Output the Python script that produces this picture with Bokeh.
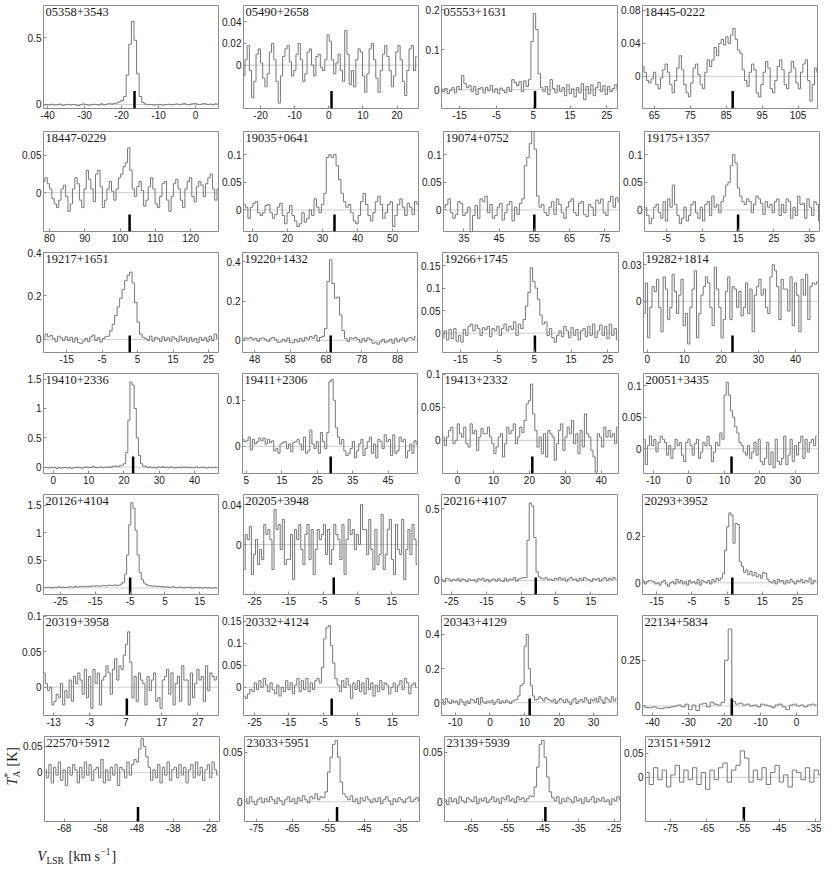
import numpy as np
from bokeh.plotting import figure
from bokeh.models import Label, Span, FixedTicker
from bokeh.layouts import column, row
from bokeh.embed import file_html
from bokeh.resources import INLINE

# ---------------- data ----------------
names = ["05358+3543", "05490+2658", "05553+1631", "18445-0222",
         "18447-0229", "19035+0641", "19074+0752", "19175+1357",
         "19217+1651", "19220+1432", "19266+1745", "19282+1814",
         "19410+2336", "19411+2306", "19413+2332", "20051+3435",
         "20126+4104", "20205+3948", "20216+4107", "20293+3952",
         "20319+3958", "20332+4124", "20343+4129", "22134+5834",
         "22570+5912", "23033+5951", "23139+5939", "23151+5912"]

# systemic velocity markers (km/s)
vsys = [-16.5, 0.8, 5.5, 86.8, 102.7, 33.4, 55.0, 15.0,
        2.8, 69.3, 5.2, 23.0, 22.6, 28.8, 20.8, 12.0,
        -5.0, -1.9, -0.8, 6.5, 7.3, -2.6, 11.5, -18.0,
        -47.7, -52.6, -44.3, -54.8]

# first channel velocity and channel width (km/s)
v_first = [-40.8, -24.9, -20.0, 61.8, 78.4, 7.6, 29.4, -10.9,
           -21.4, 44.8, -19.8, -0.8, -2.6, 4.0, -4.0, -12.6,
           -29.7, -28.0, -27.7, -18.8, -15.6, -28.0, -13.8, -42.5,
           -73.2, -78.0, -72.3, -81.6]
dv = [0.7, 0.65, 0.65, 0.65, 0.65, 0.7, 0.7, 0.65,
      0.7, 0.7, 0.65, 0.6, 0.6, 0.6, 0.6, 0.6,
      0.6, 0.6, 0.65, 0.6, 0.6, 0.65, 0.6, 1.0,
      0.65, 0.7, 0.7, 1.2]

# axis limits
x_lo = [-41.1, -25.0, -19.9, 61.7, 78.3, 7.4, 29.2, -11.2,
        -21.5, 44.6, -19.9, -1.0, -2.8, 3.9, -4.2, -12.8,
        -29.9, -28.2, -27.9, -19.0, -15.8, -28.2, -14.0, -42.8,
        -73.4, -78.3, -72.5, -82.0]
x_hi = [6.2, 26.3, 27.9, 110.4, 127.9, 57.4, 79.2, 37.8,
        27.8, 93.6, 27.9, 46.2, 46.8, 53.3, 44.8, 36.5,
        20.4, 22.8, 22.7, 30.7, 32.7, 22.6, 36.9, 5.8,
        -25.3, -29.7, -23.3, -33.6]
y_lo = [-0.03, -0.040, -0.047, -0.039, -0.052, -0.039, -0.039, -0.039,
        -0.06, -0.062, -0.043, -0.042, -0.107, -0.059, -0.050, -0.039,
        -0.12, -0.05, -0.098, -0.05, -0.040, -0.064, -0.075, -0.052,
        -0.094, -0.020, -0.020, -0.092]
y_hi = [0.74, 0.055, 0.21, 0.086, 0.082, 0.142, 0.142, 0.142,
        0.40, 0.447, 0.179, 0.040, 1.596, 0.158, 0.101, 0.119,
        1.70, 0.05, 0.60, 0.379, 0.101, 0.163, 0.511, 0.494,
        0.069, 0.066, 0.066, 0.085]

x_ticks = [[-40, -30, -20, -10, 0], [-20, -10, 0, 10, 20], [-15, -5, 5, 15, 25], [65, 75, 85, 95, 105],
           [80, 90, 100, 110, 120], [10, 20, 30, 40, 50], [35, 45, 55, 65, 75], [-5, 5, 15, 25, 35],
           [-15, -5, 5, 15, 25], [48, 58, 68, 78, 88], [-15, -5, 5, 15, 25], [0, 10, 20, 30, 40],
           [0, 10, 20, 30, 40], [5, 15, 25, 35, 45], [0, 10, 20, 30, 40], [-10, 0, 10, 20, 30],
           [-25, -15, -5, 5, 15], [-25, -15, -5, 5, 15], [-25, -15, -5, 5, 15], [-15, -5, 5, 15, 25],
           [-13, -3, 7, 17, 27], [-25, -15, -5, 5, 15], [-10, 0, 10, 20, 30], [-40, -30, -20, -10, 0],
           [-68, -58, -48, -38, -28], [-75, -65, -55, -45, -35], [-65, -55, -45, -35, -25], [-75, -65, -55, -45, -35]]
y_ticks = [[0, 0.5], [0, 0.02, 0.04], [0, 0.1, 0.2], [0, 0.04, 0.08],
           [0, 0.05], [0, 0.05, 0.1], [0, 0.05, 0.1], [0, 0.05, 0.1],
           [0, 0.2, 0.4], [0, 0.2, 0.4], [0, 0.05, 0.1, 0.15], [0, 0.03],
           [0, 0.5, 1, 1.5], [0, 0.1], [0, 0.05, 0.1], [0, 0.05, 0.1],
           [0, 0.5, 1, 1.5], [0, 0.04], [0, 0.5], [0, 0.2],
           [0, 0.05, 0.1], [0, 0.05, 0.1, 0.15], [0, 0.2, 0.4], [0, 0.25],
           [0, 0.05], [0, 0.05], [0, 0.05], [0, 0.05]]

# antenna temperatures, mK, channel by channel
spec_01 = [-5, 0, -3, 2, -4, -2, 3, -6, -2, 1, -4, 0, -3, -8, -2, 4, -1, -5, -3, 2,
           0, -4, 5, -3, 2, 6, 3, 8, 12, 20, 30, 60, 220, 450, 620, 480, 230, 60, 15,
           3, -2, 0, -4, -3, 1, -2, -5, -1, 2, -3, 0, 4, -2, 3, 6, 1, -3, 5, 8,
           2, -1, 4, 6, 0, 3, -2, 5, 2]
spec_02 = [-10, 5, 18, -5, -30, -15, 10, 15, 2, -12, -20, -8, 12, 20, 5, -15, -35, -10, 8, 15,
           18, 3, -10, -5, 10, 20, 5, -15, -8, 12, 15, 0, -10, 8, 10, -2, -5, 5, 28, 22,
           5, -8, 2, 10, -5, -15, 32, 10, -18, -5, -20, 5, 15, 12, -10, -25, -8, 15, 20, 5,
           -12, -25, -5, 10, 18, 8, -5, -20, -10, 12, 18, 5, -15, -28, -5, 15, 18, -5, 8]
spec_03 = [0, -5, 3, -10, -2, 5, -8, 8, 0, 35, 15, 5, 10, -5, 8, -12, 3, 5, -8, 6,
           -3, 10, -6, 2, -10, 4, -2, -8, 6, -5, 25, 18, 10, 20, -5, 22, 8, 25, 120, 190,
           150, 40, 5, -5, 8, -12, 25, 3, -8, 10, -5, 5, -15, 12, -10, 2, -18, 5, -8, 15,
           -25, 8, -10, 12, -15, 5, 18, -5, 10, -12, 8, -5, 3, 12, 0]
spec_04 = [12, 5, -5, -8, -3, 5, -10, -15, -2, 8, 15, 5, -10, -20, -5, 10, 25, 8, -10, -20,
           -25, -8, 10, 15, 2, -10, -15, 5, 20, 12, 20, 35, 25, 40, 45, 38, 48, 40, 50, 58,
           45, 32, 28, 8, -5, -12, 5, 15, 8, -20, -25, -10, 5, 18, 10, -15, -20, -5, 12, 20,
           8, -10, -15, 5, 18, 10, -8, -15, 5, 15, 20, -5, -30, -10, 10, 5]
spec_05 = [15, 20, 12, 5, -8, -15, -20, -10, 5, 10, -5, -25, -15, 5, 20, 12, -10, -20, 5, 30,
           18, 5, -12, 25, 30, 8, -20, -10, 5, 15, 2, -10, 5, 20, 25, 35, 40, 60, 30, 5,
           -5, 8, 15, 3, -18, -10, 8, 20, 5, -15, -20, -5, 12, 15, -10, -25, -5, 12, 18, 5,
           -10, -20, 5, 15, 20, -5, -12, 8, 15, 10, -5, 12, 20, 25, 5, -10, 5]
spec_06 = [10, 5, -15, 5, 12, 15, -5, -10, -5, 8, 10, -5, -15, -8, 5, 12, -10, -25, -5, 8,
           -10, -20, -30, -25, -5, -22, -15, 0, -10, 20, 5, -5, 10, 30, 95, 100, 95, 100, 80, 55,
           30, 15, 5, 10, -5, -20, -25, -10, 15, 30, 10, -10, -20, -5, 15, 25, 10, -15, -5, 10,
           15, -30, -10, 10, 20, 5, -10, 12, 5, -8, 15, 10]
spec_07 = [5, 10, 20, -5, -15, -8, 15, 12, -10, -5, 5, -45, -10, 8, -15, 20, 15, 25, -5, 10,
           -15, -10, 5, 12, -18, -5, 10, 15, -20, 5, -8, 12, 20, 80, 95, 120, 150, 110, 25, 5,
           10, -5, -10, 5, 15, -8, 20, 10, -5, -15, 5, 15, 20, -5, -10, 12, 15, -8, -12, 10,
           5, -10, 18, 12, 20, -5, -10, 15, 25, 5, 22, 15]
spec_08 = [5, -10, -25, -15, 5, 10, -5, -15, 15, -20, 20, 5, 45, 10, -10, -25, -15, 5, -20, -10,
           10, 15, -5, -15, 5, -20, 10, 15, -10, 25, 5, 10, -5, 15, 25, 45, 50, 80, 100, 85,
           40, 25, 15, 10, 20, 15, -5, 10, 25, 20, 12, -8, 15, 5, 10, -5, 15, 20, -10, 10,
           -5, 20, 15, -15, 5, -10, 25, 10, 12, -15, 20, 5, -10, 15, 10, -20]
spec_09 = [10, 25, 12, 18, 5, -10, 15, 8, -5, 12, -5, 10, -12, 8, -15, -18, -8, 5, -10, 12,
           20, -5, 8, -12, 5, 12, 15, 40, 70, 110, 150, 190, 230, 270, 295, 310, 260, 170, 80, 25,
           10, 5, -5, 15, -8, 10, 5, -10, 12, -5, 8, -8, 12, 5, -10, 15, -5, 8, -12, 10,
           -8, 5, -15, 10, -5, 8, -10, 15, -5, 25, 5]
spec_10 = [5, 12, 8, 15, 5, 10, -5, 8, 12, 3, -5, 8, 15, 5, -10, -8, 5, -5, 12, -10,
           -12, 5, -8, 10, -5, 15, 5, 20, 10, 25, -5, 15, 20, 60, 300, 410, 290, 215, 220, 130,
           50, 10, -5, 12, 8, 15, 5, -10, 10, -5, 12, 5, -15, -10, -20, -8, 5, -12, -5, 5,
           -15, 10, -8, 5, 12, -5, 10, 15, 5, 20]
spec_11 = [-10, 5, -15, 8, -12, 10, -18, -5, -20, 8, -5, 15, 20, 5, 18, 10, -5, 12, 8, 15,
           -8, 10, 5, 15, -5, 10, 20, 5, 15, 8, 25, -5, 20, 10, 30, 60, 90, 145, 115, 100,
           75, 40, 20, 25, -5, 10, -10, -20, -5, 5, -8, 15, 5, -10, 12, -5, 8, -15, 5, 10,
           -8, 15, -5, 20, -10, 5, 18, -5, 15, -12, 20, -5, 10, -15]
spec_12 = [-10, 15, -30, -5, 12, 8, 18, -5, -25, 20, 10, -15, -5, 22, 8, -10, 5, 18, -20, -10,
           -35, -5, 10, 25, -30, -10, 5, 12, 20, 15, -5, -20, 28, 10, -5, -30, -15, 8, 20, -15,
           12, 10, -5, 8, -12, -5, 15, -10, 10, -25, 5, 12, 18, 5, 10, -5, -10, 20, 30, 25,
           12, -15, 18, 10, 10, -8, 20, -20, 15, 5, -25, 18, 5, 22, -15, 12, 15, 14, 16]
spec_13 = [-10, -5, -15, 0, -10, -5, -20, -8, -15, -10, -5, -15, -8, -20, -10, -5, 0, -10, -15, -5,
           5, -10, -5, 10, 0, -8, -5, 5, -10, 0, 5, -5, 10, 15, 20, 10, 25, 35, 60, 250,
           800, 1450, 1400, 1000, 500, 200, 60, 20, 10, -5, 5, -10, 0, -15, 5, -5, 10, -5,
           0, -10, 5, -8, -15, -5, 0, -10, 5, -5, -8, 0, -12, -5, 5, -10, -5, 0, -8, -15,
           -5, -10, 0, -5, -10]
spec_14 = [15, 10, 12, 20, -8, 15, 5, 10, 18, 12, 18, 5, 15, 8, 12, -10, -5, -15, 5, 8,
           10, -5, 5, -12, 8, 10, 15, 5, -8, 20, -15, -10, 35, 5, -5, 10, -15, 30, 10, -5,
           30, 140, 145, 100, 40, 20, 5, 15, -10, -20, -15, -5, 10, -25, -10, 5, 15, -20, -5, 10,
           20, -15, 5, -25, 15, 10, -5, 25, 10, 15, -20, 25, -15, -10, 20, 10, 15, -25, -10, 5,
           -15, 12, 5]
spec_15 = [5, -8, 5, 15, 20, -5, 0, 25, 10, 5, 20, -5, -10, 25, 10, 15, -15, 5, 18, 10,
           10, 20, 5, -5, -20, -10, 5, 10, -25, -5, 20, 10, 15, 25, -5, 5, 20, 12, 30, 55,
           60, 85, 40, 15, -10, 5, -20, 10, -25, 15, 10, 5, -30, -5, 15, 25, -15, 5, 20, 10,
           30, -5, 10, -20, 15, -10, 40, 10, 5, -15, -25, -48, 10, 5, -10, 20, 5, 15, 5, 10,
           -5, 20]
spec_16 = [15, -25, 5, 20, 5, 15, -5, 10, 20, 15, 10, -10, 5, -15, 0, 15, 5, 10, -10, -20,
           10, 15, 5, -10, 8, 15, -15, -5, 10, 5, 20, 5, -20, -5, 10, 5, 25, 15, 85, 105,
           85, 60, 50, 35, 25, 10, 5, -5, -10, 5, -15, -5, 10, -10, 15, -20, -25, -15, 10, -25,
           -5, -30, 15, -20, -25, -15, 20, -25, -10, 15, -20, 5, -10, 10, 20, -15, 15, -5, 10, 15,
           5, 20]
spec_17 = [10, 5, 15, 8, 0, 10, 5, 20, 10, 15, 5, 10, 20, 15, 10, 25, 15, 20, 30, 25,
           20, 30, 25, 35, 30, 40, 35, 30, 45, 40, 35, 50, 45, 40, 55, 45, 50, 70, 100, 250,
           600, 1150, 1550, 1450, 1050, 600, 280, 150, 90, 60, 45, 40, 30, 35, 25, 30, 20, 25, 15, 20,
           10, 15, 20, 10, 5, 15, 10, 0, 10, 5, 15, -5, 5, 10, 0, 5, -5, 10, 0, 5,
           -5, 0, 5, 0]
spec_18 = [-25, 10, 5, 18, -30, -10, 5, -20, -5, -15, 20, 10, 15, 5, -25, 35, 15, 20, -5, 25,
           -20, -15, -15, 10, -35, 15, 5, 20, -5, -20, 10, 20, -15, 15, -30, -5, 15, 5, 10, 20,
           -10, 15, -20, -5, 20, 10, 5, -15, 20, -30, 5, 25, 10, 15, -5, 10, 0, 40, 15, 15,
           -10, 25, -5, -25, 15, -20, -10, 30, -25, -10, 15, 25, -15, -30, 20, -5, -10, 25, -35, -5,
           15, -10, 20, 5, -20]
spec_19 = [5, -10, 15, 10, -5, 8, 0, 12, -5, 10, 5, -8, 10, 0, 5, -10, 12, 5, 15, -5,
           8, -10, 5, 10, -5, 12, 0, -8, 15, -5, 10, 5, 20, -5, 10, 15, 20, 20, 280, 540,
           520, 300, 60, 25, 15, 10, 20, 5, 10, 0, 15, 8, 20, 5, 15, -5, 10, 20, 5, 10,
           -5, 15, 0, 20, 10, 5, -8, 12, 5, 15, -5, 10, 20, 0, 15, 5, 20, 10]
spec_20 = [10, -5, 5, 10, 8, 5, -5, 0, -10, 5, 10, -5, -15, 0, 5, -5, 15, 0, 10, -5,
           5, -10, 10, 0, 5, -5, 15, -10, 10, 5, 0, 10, -5, 15, 5, 20, 10, 20, 40, 140,
           240, 300, 290, 170, 255, 250, 90, 70, 45, 55, 35, 50, 30, 45, 25, 35, 20, 45, 40, 15,
           5, 0, 10, -5, 15, 5, 10, -5, 10, 0, 15, 5, -5, 10, 5, 15, 0, 10, 5, 20,
           -5, 10, 5]
spec_21 = [20, 5, -5, 0, -25, -20, -10, -15, 5, -25, -5, -15, 10, -20, 15, 5, 20, 10, -10, 25,
           -15, 15, -30, 25, 5, 20, -25, 10, 15, 30, 20, -10, 25, 40, 10, 30, 25, 45, 60, 78,
           35, -15, 15, -20, 20, 10, 5, -25, 15, -5, 10, 20, -20, -15, -30, 10, 15, 25, -10, 20,
           -25, 5, 15, -20, 30, 10, 10, -25, 20, -15, 5, 25, 10, 15, -20, 30, -5, 20, 15, 10,
           15]
spec_22 = [-20, -25, -15, -5, -10, 10, -5, 15, 0, 20, 5, -10, 10, -5, -15, 5, -20, 0, -10, 15,
           -5, 10, -15, 5, 20, -10, 15, -5, 20, -10, 10, -5, 15, 20, 10, 45, 110, 135, 140, 95,
           55, 20, 5, -10, 15, 0, 20, 5, -25, 10, -5, 15, -10, 10, -15, 20, -5, 10, -20, 5,
           -10, 15, -5, 10, 5, -15, 0, 10, -10, 5, 15, -5, 20, 10, -15, 5, 10, 0]
spec_23 = [20, -10, 25, 5, -5, 15, 0, 10, -10, 20, 5, -15, 10, -5, 20, 15, 0, 25, -10, 30,
           5, -5, 10, 0, 15, -10, 5, 20, -5, 10, 0, 15, 5, -5, 10, 15, 20, 40, 100, 110,
           330, 400, 200, 100, 40, 15, 20, 35, 25, 10, 30, 20, 15, 5, 20, -5, 10, 25, 15, 0,
           20, 5, -10, 15, 25, -5, 10, 20, 5, 30, 15, -5, 20, 10, 25, 5, 35, 15, -5, 30,
           20, 5, 35, 10, 25]
spec_24 = [-5, -8, -10, -5, -12, -15, -10, -8, -5, 0, 5, -5, 10, -20, 5, -25, 10, 15, -5, 20,
           10, 5, 20, 250, 420, 25, 10, 15, 5, 10, 0, 5, -5, 10, 5, 0, -8, 5, 10, -5,
           -20, 5, 10, 0, 5, -5, 5, 10, 5]
spec_25 = [5, -10, 15, -20, 10, -5, 20, -15, 5, -25, 10, -5, 15, 5, -20, 10, -10, 20, -5, 15,
           -15, 5, 10, -10, 25, -20, 5, -15, 10, -5, 15, -25, 10, 5, -10, 20, -5, 15, 25, 20,
           45, 65, 50, 30, 10, -15, 5, -10, 15, -20, 10, -5, 20, -15, 5, 10, -10, 15, -5, 10,
           -20, 5, 15, -10, 20, -5, 10, -15, 5, 15, -10, 20, 5, -5]
spec_26 = [3, -2, 5, 0, -3, 2, 4, -1, 3, 0, 5, 2, -2, 4, 1, -3, 2, 5, 0, 3,
           -2, 4, 1, 6, 2, -1, 5, 3, 8, 2, 5, 4, 10, 30, 45, 58, 62, 45, 20, 8,
           5, 2, 6, 0, 3, -2, 4, 1, 5, 2, -1, 3, 0, 4, -2, 2, 5, 1, -3, 3,
           0, 4, 2, -1, 3, 5, 0, 2, 4, 1]
spec_27 = [2, -3, 4, 0, 3, -2, 5, 1, -1, 4, 2, 0, 5, -2, 3, 1, 4, -1, 2, 5,
           0, 3, -2, 4, 2, 6, 1, 3, -1, 5, 2, 4, 0, 3, 6, 5, 15, 35, 58, 62,
           45, 25, 10, 4, 1, 5, -2, 3, 0, 4, 2, -1, 5, 1, 3, -2, 4, 0, 2, 5,
           -1, 3, 1, 4, 0, 2, -3, 3, 1, 5, 2]
spec_28 = [10, -15, 20, -5, 15, -20, 5, 25, -10, 15, -5, 20, -15, 10, -25, 15, -5, 20, 30, -10,
           15, 25, 55, 40, -10, 15, -5, 20, -15, 10, 25, -10, 5, -20, 15, 10, -5, 20, -10, 15,
           5]

SPECTRA = [spec_01, spec_02, spec_03, spec_04, spec_05, spec_06, spec_07, spec_08,
           spec_09, spec_10, spec_11, spec_12, spec_13, spec_14, spec_15, spec_16,
           spec_17, spec_18, spec_19, spec_20, spec_21, spec_22, spec_23, spec_24,
           spec_25, spec_26, spec_27, spec_28]

# ---------------- layout / style ----------------
FW = [175, 175, 176, 175]
LB = [43, 23, 22, 24]
FH = [103, 100, 100, 100, 100, 100, 85]
TB = [5, 6, 6, 6, 6, 6, 6]
BB = [17, 15, 15, 15, 15, 15, 15]
YSTRIP_W = 20          # strip holding the rotated y title, left of the bottom-left panel

LINE = "#777777"
FRAME = "#8c8c8c"
ZERO = "#cdcdcd"
SANS = "Liberation Sans"
SERIF = "Liberation Serif"
TXT = "#1a1a1a"


def fmt(t):
    return f"{t:g}"


def style_axis(ax, ticks):
    ax.ticker = FixedTicker(ticks=ticks, minor_ticks=[])
    ax.major_label_overrides = {t: fmt(t) for t in ticks}
    ax.axis_line_color = None
    ax.major_tick_in = 3
    ax.major_tick_out = 0
    ax.minor_tick_in = 0
    ax.minor_tick_out = 0
    ax.major_tick_line_color = FRAME
    ax.major_label_text_font = SANS
    ax.major_label_text_font_size = "10px"
    ax.major_label_text_color = TXT
    ax.major_label_standoff = 2


def panel(k):
    r, c = divmod(k, 4)
    left = LB[c] - YSTRIP_W if r == 6 and c == 0 else LB[c]
    p = figure(frame_width=FW[c], frame_height=FH[r],
               x_range=(x_lo[k], x_hi[k]), y_range=(y_lo[k], y_hi[k]),
               min_border_left=left, min_border_right=1,
               min_border_top=TB[r], min_border_bottom=BB[r],
               output_backend="svg", toolbar_location=None)
    p.grid.visible = False
    p.outline_line_color = FRAME
    p.outline_line_width = 1
    p.background_fill_color = "white"
    p.border_fill_color = "white"
    style_axis(p.xaxis[0], x_ticks[k])
    style_axis(p.yaxis[0], y_ticks[k])

    p.add_layout(Span(location=0, dimension="width", line_color=ZERO,
                      line_width=1, level="underlay"))
    vel = v_first[k] + dv[k] * np.arange(len(SPECTRA[k]))
    ta = np.array(SPECTRA[k], dtype=float) / 1000.0
    p.step(vel, ta, mode="center", line_color=LINE, line_width=1)

    bar_top = y_lo[k] + 0.17 * (y_hi[k] - y_lo[k])
    p.segment(x0=[vsys[k]], y0=[y_lo[k]], x1=[vsys[k]], y1=[bar_top],
              line_color="black", line_width=2.5)

    p.add_layout(Label(x=2, y=FH[r] - 2, x_units="screen", y_units="screen",
                       text=names[k], text_font=SERIF, text_font_size="12.5px",
                       text_color=TXT, text_baseline="top", text_align="left"))
    return p


def blank(w, h, top=0, bottom=0):
    b = figure(frame_width=w, frame_height=h, x_range=(0, 1), y_range=(0, 1),
               x_axis_type=None, y_axis_type=None,
               min_border_left=0, min_border_right=0,
               min_border_top=top, min_border_bottom=bottom,
               output_backend="svg", toolbar_location=None)
    b.grid.visible = False
    b.outline_line_color = None
    b.background_fill_color = "white"
    b.border_fill_color = "white"
    return b


def lab(fig, x, y, text, size, italic=False, angle=0.0):
    fig.add_layout(Label(x=x, y=y, x_units="screen", y_units="screen", text=text,
                         angle=angle, text_font=SERIF,
                         text_font_style="italic" if italic else "normal",
                         text_font_size=size, text_color=TXT,
                         text_align="left", text_baseline="middle"))


BIG, SMALL = "14px", "9.5px"

# y title  T_A^* [K]  (rotated)
ystrip = blank(YSTRIP_W, FH[6], TB[6], BB[6])
ang = np.pi / 2
lab(ystrip, 12, 36, "T", BIG, italic=True, angle=ang)
lab(ystrip, 16, 44, "A", SMALL, angle=ang)
lab(ystrip, 7, 44, "*", SMALL, angle=ang)
lab(ystrip, 12, 55, "[K]", BIG, angle=ang)

# x title  V_LSR [km s^-1]
xstrip = blank(230, 30)
lab(xstrip, 37, 10, "V", BIG, italic=True)
lab(xstrip, 46, 6, "LSR", SMALL)
lab(xstrip, 68, 10, "[km s", BIG)
lab(xstrip, 100, 15, "\u22121", SMALL)
lab(xstrip, 111, 10, "]", BIG)

rows = []
for r in range(7):
    figs = [panel(4 * r + c) for c in range(4)]
    if r == 6:
        figs = [ystrip] + figs
    rows.append(row(figs, spacing=0))
rows.append(row([xstrip], spacing=0))
layout = column(rows, spacing=0)

open("out.html", "w").write(file_html(layout, INLINE))
